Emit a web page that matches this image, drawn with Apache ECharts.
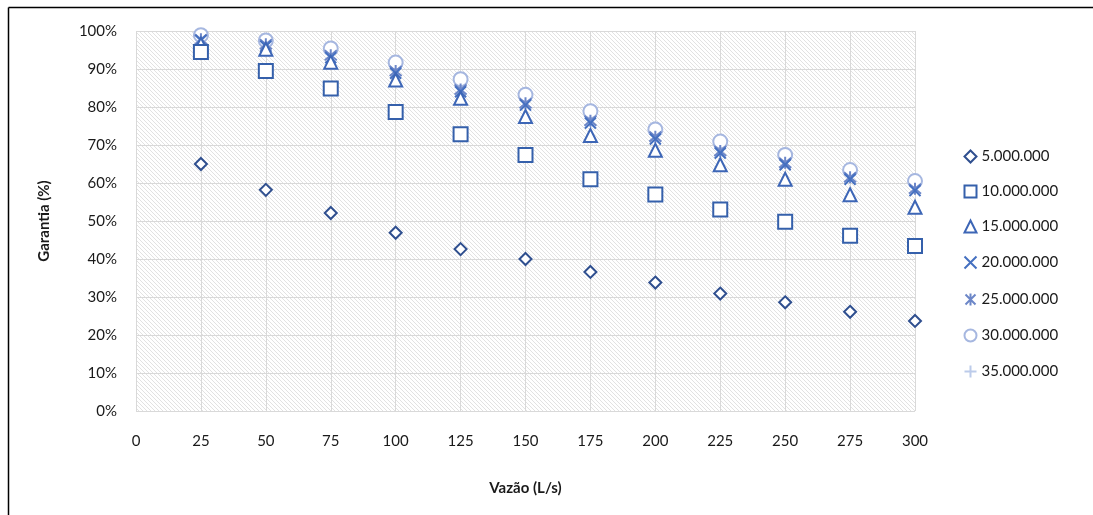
<!DOCTYPE html>
<html><head><meta charset="utf-8">
<script src="https://cdn.jsdelivr.net/npm/echarts@6/dist/echarts.min.js"></script>
<style>html,body{margin:0;padding:0;background:#fff}#c{width:1093px;height:515px}</style>
</head><body><div id="c"></div>
<script>
var vazao = [25, 50, 75, 100, 125, 150, 175, 200, 225, 250, 275, 300];
var seriesNames = ['5.000.000', '10.000.000', '15.000.000', '20.000.000', '25.000.000', '30.000.000', '35.000.000'];
var s5  = [65.0, 58.2, 52.1, 46.9, 42.6, 40.0, 36.6, 33.8, 30.9, 28.6, 26.1, 23.7];
var s10 = [94.5, 89.5, 84.9, 78.7, 72.8, 67.4, 61.0, 57.0, 53.0, 49.8, 46.1, 43.4];
var s15 = [96.5, 95.2, 91.8, 87.1, 82.3, 77.5, 72.5, 68.6, 64.8, 61.0, 56.9, 53.6];
var s20 = [97.5, 96.0, 93.0, 88.9, 84.0, 80.5, 75.8, 71.6, 67.9, 64.8, 61.0, 58.0];
var s25 = [97.8, 96.5, 93.6, 89.5, 84.6, 81.0, 76.4, 72.2, 68.4, 65.3, 61.5, 58.5];
var s30 = [98.9, 97.5, 95.4, 91.7, 87.3, 83.2, 78.9, 74.1, 70.9, 67.4, 63.4, 60.5];
var s35 = [99.2, 97.9, 95.8, 92.1, 87.7, 83.6, 79.3, 74.6, 71.3, 67.8, 63.8, 60.9];

var allData = [s5, s10, s15, s20, s25, s30, s35];
var colors = ['#2f4f8f', '#3560ab', '#3d66b6', '#4570c0', '#6d87c8', '#a6b7e0', '#bccbea'];
var symbols = ['emptyDiamond', 'emptyRect', 'emptyTriangle',
  'path://M0,0L10,10M10,0L0,10',
  'path://M0,0L10,10M10,0L0,10M5,-1L5,11',
  'emptyCircle',
  'path://M5,0L5,10M0,5L10,5'];
var sizes = [12, 14, 13, 11, 12, 14, 12];

// hatch pattern
var pc = document.createElement('canvas');
pc.width = 4; pc.height = 4;
var pctx = pc.getContext('2d');
pctx.fillStyle = '#ffffff'; pctx.fillRect(0, 0, 4, 4);
pctx.strokeStyle = '#e2e2e2'; pctx.lineWidth = 1;
pctx.beginPath(); pctx.moveTo(-1, -1); pctx.lineTo(5, 5); pctx.stroke();
pctx.beginPath(); pctx.moveTo(-1, 3); pctx.lineTo(1, 5); pctx.stroke();
pctx.beginPath(); pctx.moveTo(3, -1); pctx.lineTo(5, 1); pctx.stroke();

var FONT = 'Lato';
var TXT = '#1a1a1a';
var series = seriesNames.map(function (n, i) {
  return {
    name: n, type: 'scatter',
    data: vazao.map(function (x, j) { return [x, allData[i][j]]; }),
    symbol: symbols[i], symbolSize: sizes[i],
    itemStyle: { color: i >= 3 && i !== 5 ? 'none' : colors[i], borderColor: colors[i], borderWidth: 2, opacity: 1 },
    z: 10 - i
  };
});

var chart = echarts.init(document.getElementById('c'));
chart.setOption({
  animation: false,
  backgroundColor: '#ffffff',
  grid: { left: 136, right: 178, top: 31, bottom: 104, show: true,
    backgroundColor: { image: pc, repeat: 'repeat' }, borderWidth: 0 },
  legend: {
    orient: 'vertical', left: 957, top: 144,
    itemWidth: 12, itemHeight: 12, itemGap: 20,
    textStyle: { fontFamily: FONT, fontSize: 15, color: TXT },
    data: seriesNames.map(function (n, i) { return { name: n, icon: symbols[i] }; })
  },
  xAxis: {
    type: 'value', min: 0, max: 300, interval: 25,
    name: 'Vazão (L/s)', nameLocation: 'middle', nameGap: 70,
    nameTextStyle: { fontFamily: FONT, fontSize: 15, fontWeight: 'bold', color: TXT },
    axisLine: { show: false }, axisTick: { show: false },
    axisLabel: { fontFamily: FONT, fontSize: 15, color: TXT, margin: 23 },
    splitLine: { show: true, lineStyle: { color: '#d9d9d9', width: 1 } }
  },
  yAxis: {
    type: 'value', min: 0, max: 100, interval: 10,
    name: 'Garantia (%)', nameLocation: 'middle', nameGap: 84, nameRotate: 90,
    nameTextStyle: { fontFamily: FONT, fontSize: 15, fontWeight: 'bold', color: TXT },
    axisLine: { show: false }, axisTick: { show: false },
    axisLabel: { fontFamily: FONT, fontSize: 15, color: TXT, margin: 19, formatter: '{value}%' },
    splitLine: { show: true, lineStyle: { color: '#d9d9d9', width: 1 } }
  },
  graphic: [
    { type: 'line', shape: { x1: 8.5, y1: 7.5, x2: 1093, y2: 7.5 }, style: { stroke: '#000', lineWidth: 1.5 } },
    { type: 'line', shape: { x1: 8.5, y1: 7.5, x2: 8.5, y2: 515 }, style: { stroke: '#000', lineWidth: 1.5 } }
  ],
  series: series
});
</script></body></html>
